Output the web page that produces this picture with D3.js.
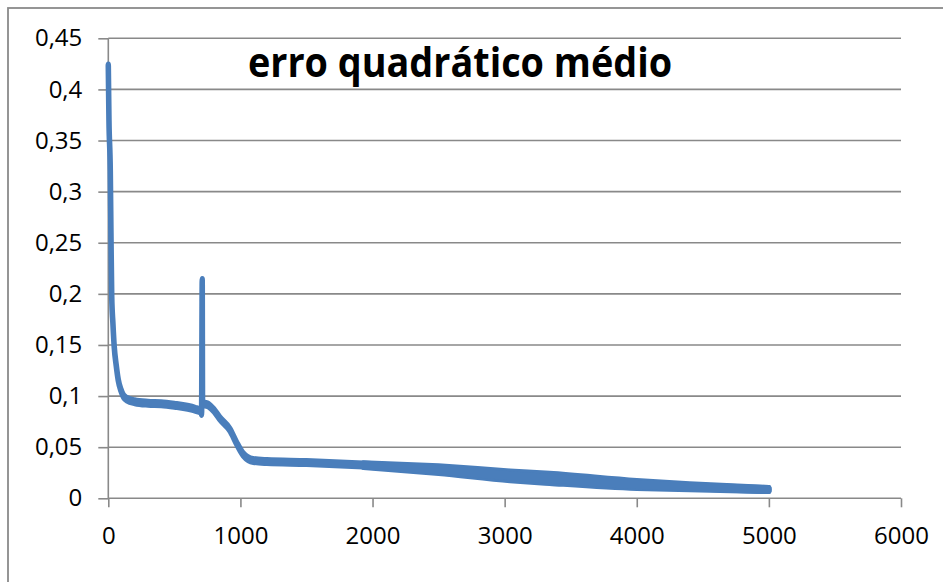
<!DOCTYPE html>
<html>
<head>
<meta charset="utf-8">
<script src="https://cdn.jsdelivr.net/npm/d3@7"></script>
<style>
  html, body { margin: 0; padding: 0; background: #fff; }
  svg { display: block; }
</style>
</head>
<body>
<svg id="chart" width="943" height="582"></svg>
<script>
// Training epochs and the mean squared error recorded at each one
const epochs = [0, 5, 15, 20, 26, 35, 45, 60, 75, 95, 115, 140, 200, 300, 400, 500, 600, 660, 700, 706, 711, 713, 720, 760, 800, 845, 921, 971, 1021, 1097, 1200, 1500, 1930, 2500, 3040, 3340, 4000, 4400, 5000];
const mse = [0.423, 0.37, 0.32, 0.26, 0.197, 0.171, 0.148, 0.13, 0.116, 0.106, 0.1, 0.097, 0.0945, 0.093, 0.0925, 0.091, 0.089, 0.087, 0.085, 0.083, 0.213, 0.095, 0.093, 0.091, 0.086, 0.078, 0.067, 0.054, 0.043, 0.037, 0.036, 0.035, 0.0325, 0.028, 0.022, 0.0195, 0.0135, 0.0113, 0.0085];
// half-width of the oscillation band around the error curve
const spread = [0, 0, 0, 0, 0, 0, 0, 0, 0, 0, 0, 0, 0, 0, 0, 0, 0, 0, 0, 0, 0, 0, 0, 0, 0, 0, 0, 0, 0, 0, 0, 0, 0.0004, 0.0018, 0.0028, 0.003, 0.002, 0.001, 0];

const xTicks = [0, 1000, 2000, 3000, 4000, 5000, 6000];
const yTicks = [0, 0.05, 0.1, 0.15, 0.2, 0.25, 0.3, 0.35, 0.4, 0.45];
const title = "erro quadrático médio";

const svg = d3.select("#chart");
const plot = { left: 108.3, right: 901, top: 38.3, bottom: 498.3 };
const gridColor = "#898989";
const lineColor = "#4a7ebb";
const fmt = v => String(v).replace(".", ",");

const x = d3.scaleLinear().domain([0, 6000]).range([plot.left, plot.right]);
const y = d3.scaleLinear().domain([0, 0.45]).range([plot.bottom, plot.top]);

// outer chart frame
svg.append("rect")
  .attr("x", 8).attr("y", 8).attr("width", 960).attr("height", 600)
  .attr("fill", "#fff").attr("stroke", "#8a8a8a").attr("stroke-width", 1.8);

// horizontal gridlines
svg.append("g").selectAll("line").data(yTicks.filter(v => v > 0)).join("line")
  .attr("x1", plot.left).attr("x2", plot.right)
  .attr("y1", d => y(d)).attr("y2", d => y(d))
  .attr("stroke", gridColor).attr("stroke-width", 1.6);

// y axis
const yAxis = svg.append("g")
  .attr("transform", `translate(${plot.left},0)`)
  .call(d3.axisLeft(y).tickValues(yTicks).tickFormat(fmt).tickSize(10).tickPadding(16));
yAxis.select(".domain").attr("stroke", gridColor).attr("stroke-width", 1.6)
  .attr("d", `M0,${plot.top}V${plot.bottom}`);
yAxis.selectAll(".tick line").attr("stroke", gridColor).attr("stroke-width", 1.6);
yAxis.selectAll(".tick text")
  .attr("font-family", "'Open Sans', 'Noto Sans', sans-serif")
  .attr("font-size", 24).attr("fill", "#000");

// x axis
const xAxis = svg.append("g")
  .attr("transform", `translate(0,${plot.bottom})`)
  .call(d3.axisBottom(x).tickValues(xTicks).tickFormat(d3.format("d")).tickSize(9).tickPadding(20));
xAxis.select(".domain").attr("stroke", gridColor).attr("stroke-width", 1.6)
  .attr("d", `M${plot.left},0H${plot.right}`);
xAxis.selectAll(".tick line").attr("stroke", gridColor).attr("stroke-width", 1.6);
xAxis.selectAll(".tick text")
  .attr("font-family", "'Open Sans', 'Noto Sans', sans-serif")
  .attr("font-size", 24).attr("fill", "#000");

// error curve, drawn with a pen narrower horizontally than vertically
const k = 0.62;
const xs = d3.scaleLinear().domain(x.domain()).range(x.range().map(v => v / k));
const pts = epochs.map((e, i) => ({ e, v: mse[i], s: spread[i] }));
const g = svg.append("g").attr("transform", `scale(${k},1)`);

const band = pts.filter(d => d.e >= 1930);
g.append("path")
  .attr("d", d3.area().x(d => xs(d.e)).y0(d => y(d.v - d.s)).y1(d => y(d.v + d.s)).curve(d3.curveMonotoneX)(band))
  .attr("fill", lineColor).attr("stroke", lineColor).attr("stroke-width", 9)
  .attr("stroke-linejoin", "round");

g.append("path")
  .attr("d", d3.line().x(d => xs(d.e)).y(d => y(d.v)).curve(d3.curveMonotoneX)(pts))
  .attr("fill", "none").attr("stroke", lineColor).attr("stroke-width", 9)
  .attr("stroke-linecap", "round").attr("stroke-linejoin", "round");

// chart title, set slightly condensed
const tx = 460, sx = 0.9;
svg.append("text")
  .attr("transform", `translate(${tx},77) scale(${sx},1)`)
  .attr("text-anchor", "middle")
  .attr("font-family", "'Open Sans', 'Noto Sans', sans-serif")
  .attr("font-weight", "bold").attr("font-size", 42)
  .attr("fill", "#000")
  .text(title);
</script>
</body>
</html>
